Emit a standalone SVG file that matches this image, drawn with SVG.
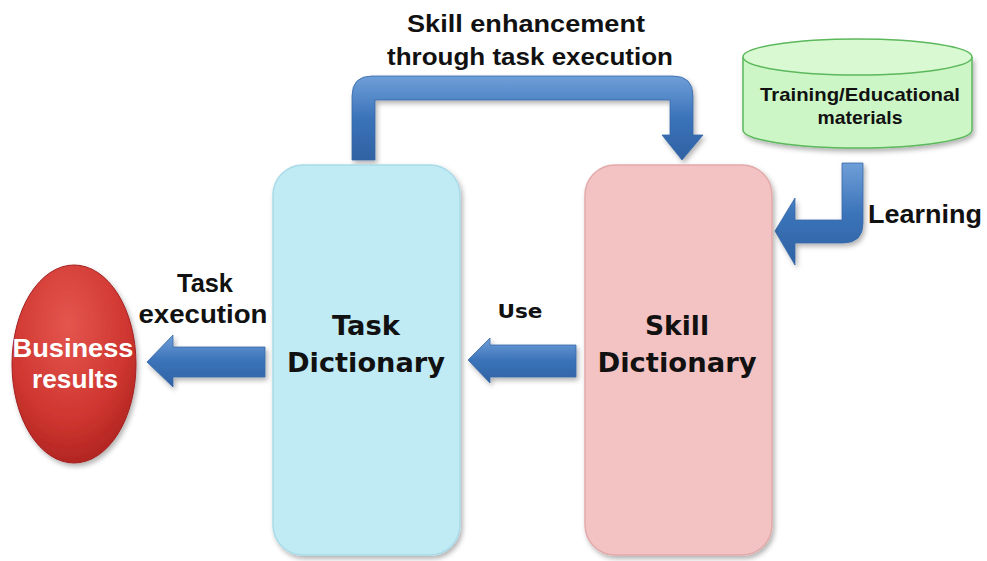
<svg xmlns="http://www.w3.org/2000/svg" width="987" height="561" viewBox="0 0 987 561">
<defs>
  <linearGradient id="gH" x1="0" y1="0" x2="0" y2="1">
    <stop offset="0" stop-color="#6f9fd8"/>
    <stop offset="0.5" stop-color="#3b73b9"/>
    <stop offset="1" stop-color="#2f62a3"/>
  </linearGradient>
  <radialGradient id="gRed" cx="0.45" cy="0.3" r="0.8">
    <stop offset="0" stop-color="#e4564e"/>
    <stop offset="0.6" stop-color="#cf3630"/>
    <stop offset="1" stop-color="#a51f1c"/>
  </radialGradient>
  <filter id="sh" x="-10%" y="-10%" width="125%" height="125%">
    <feDropShadow dx="2" dy="3" stdDeviation="2.5" flood-color="#000" flood-opacity="0.3"/>
  </filter>
  <style>
    .lbl { font-family: "Liberation Sans", Arial, sans-serif; font-weight: bold; fill: #111; }
    .box { font-family: "DejaVu Sans", Verdana, sans-serif; font-weight: bold; fill: #111; font-size: 27px; }
    .white { fill: #fff; }
    .arrow { stroke: #3567a8; stroke-width: 0.8; }
  </style>
</defs>
<rect width="987" height="561" fill="#fff"/>

<g id="connectors">
  <path class="arrow" fill="url(#gH)" d="M352,160 L352,96 Q352,76 372,76 L673,76 Q693,76 693,96 L693,135 L703,135 L682,160 L662,135 L670,135 L670,100 L375,100 L375,160 Z" filter="url(#sh)"/>
  <path class="arrow" fill="url(#gH)" d="M842,163 L863,163 L863,223 Q863,243 843,243 L795,243 L795,265 L775,231 L795,198 L795,220 L842,220 Z" filter="url(#sh)"/>
  <path class="arrow" fill="url(#gH)" d="M576,345 L576,377 L490,377 L490,383 L468,360 L490,338 L490,345 Z" filter="url(#sh)"/>
  <path class="arrow" fill="url(#gH)" d="M265,347 L265,377 L173,377 L173,387 L147,362 L173,335 L173,347 Z" filter="url(#sh)"/>
</g>

<g id="label-skill-enh">
  <text class="lbl" font-size="24" x="526" y="32" text-anchor="middle" textLength="238" lengthAdjust="spacingAndGlyphs">Skill enhancement</text>
  <text class="lbl" font-size="24" x="530" y="65" text-anchor="middle" textLength="286" lengthAdjust="spacingAndGlyphs">through task execution</text>
</g>

<g id="materials">
  <path d="M743,57 L743,130 A114.5,18 0 0 0 972,130 L972,57" fill="#cdf6c6" stroke="#5cb85c" stroke-width="1.5" filter="url(#sh)"/>
  <ellipse cx="857.5" cy="57" rx="114.5" ry="18" fill="#d9f9d2" stroke="#5cb85c" stroke-width="1.5"/>
  <text class="lbl" font-size="19" x="860" y="101" text-anchor="middle" textLength="200" lengthAdjust="spacingAndGlyphs">Training/Educational</text>
  <text class="lbl" font-size="19" x="860" y="124" text-anchor="middle" textLength="85" lengthAdjust="spacingAndGlyphs">materials</text>
</g>

<g id="label-learning">
  <text class="lbl" font-size="26" x="868" y="223" textLength="114" lengthAdjust="spacingAndGlyphs">Learning</text>
</g>

<g id="task-dictionary">
  <rect x="273" y="165" width="187" height="390" rx="30" fill="#c0eaf4" stroke="#a9dbe8" stroke-width="1.5" filter="url(#sh)"/>
  <text class="box" x="366" y="335" text-anchor="middle" textLength="68" lengthAdjust="spacingAndGlyphs">Task</text>
  <text class="box" x="366" y="372" text-anchor="middle" textLength="158" lengthAdjust="spacingAndGlyphs">Dictionary</text>
</g>

<g id="skill-dictionary">
  <rect x="585" y="165" width="187" height="390" rx="30" fill="#f3c2c2" stroke="#e2aaaa" stroke-width="1.5" filter="url(#sh)"/>
  <text class="box" x="677" y="335" text-anchor="middle" textLength="64" lengthAdjust="spacingAndGlyphs">Skill</text>
  <text class="box" x="677" y="372" text-anchor="middle" textLength="159" lengthAdjust="spacingAndGlyphs">Dictionary</text>
</g>

<g id="label-use">
  <text class="box" style="font-size:20px" x="520" y="318" text-anchor="middle" textLength="45" lengthAdjust="spacingAndGlyphs">Use</text>
</g>

<g id="label-task-exec">
  <text class="lbl" font-size="26" x="205" y="292" text-anchor="middle" textLength="56" lengthAdjust="spacingAndGlyphs">Task</text>
  <text class="lbl" font-size="26" x="203" y="323" text-anchor="middle" textLength="129" lengthAdjust="spacingAndGlyphs">execution</text>
</g>

<g id="business-results">
  <ellipse cx="74" cy="364" rx="62" ry="99" fill="url(#gRed)" stroke="#a32020" stroke-width="1" filter="url(#sh)"/>
  <text class="lbl white" font-size="25" x="73" y="357" text-anchor="middle" textLength="121" lengthAdjust="spacingAndGlyphs">Business</text>
  <text class="lbl white" font-size="25" x="75" y="388" text-anchor="middle" textLength="86" lengthAdjust="spacingAndGlyphs">results</text>
</g>
</svg>
